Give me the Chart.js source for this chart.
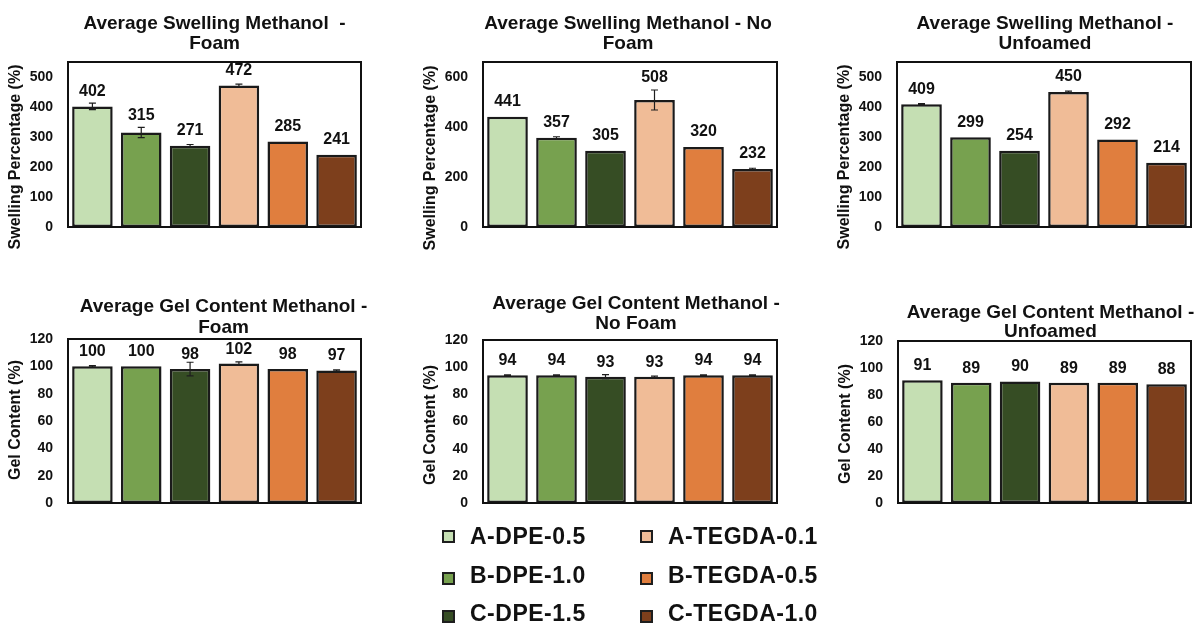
<!DOCTYPE html>
<html>
<head>
<meta charset="utf-8">
<title>Swelling and Gel Content in Methanol</title>
<script src="https://cdn.jsdelivr.net/npm/chart.js@4.4.1/dist/chart.umd.min.js"></script>
<style>
  html, body { margin: 0; padding: 0; background: #fff; }
  #page { position: relative; width: 1202px; height: 641px; overflow: hidden; background: #fff;
          font-family: "Liberation Sans", Arial, sans-serif; }
  .panel { position: absolute; }
  .panel canvas { display: block; }
  .legend-swatch { position: absolute; width: 9px; height: 9px; border: 2px solid #1e1e1e; }
  .legend-text { position: absolute; font-weight: bold; font-size: 23px; letter-spacing: 0.5px;
                 color: #111; white-space: nowrap; line-height: 30px; }
</style>
</head>
<body>
<div id="page"></div>
<script>
// Formulations (shared by every panel and the legend)
const categories = ['A-DPE-0.5', 'B-DPE-1.0', 'C-DPE-1.5', 'A-TEGDA-0.1', 'B-TEGDA-0.5', 'C-TEGDA-1.0'];
const barColors  = ['#c5dfb3', '#77a14f', '#364d24', '#f0bc97', '#e07e3e', '#7d3f1c'];

// Swelling percentage in methanol (%), mean and standard deviation
const swellFoam        = [402, 315, 271, 472, 285, 241];
const swellFoamErr     = [11, 17, 4, 4, 0, 0];
const swellNoFoam      = [441, 357, 305, 508, 320, 232];
const swellNoFoamErr   = [0, 4, 0, 40, 0, 3];
const swellUnfoamed    = [409, 299, 254, 450, 292, 214];
const swellUnfoamedErr = [2, 0, 0, 3, 0, 0];

// Gel content in methanol (%), mean and standard deviation
const gelFoam        = [100, 100, 98, 102, 98, 97];
const gelFoamErr     = [0.5, 0, 5, 1.2, 0, 0.5];
const gelNoFoam      = [94, 94, 93, 93, 94, 94];
const gelNoFoamErr   = [0.3, 0.3, 1.5, 0.5, 0.3, 0.3];
const gelUnfoamed    = [91, 89, 90, 89, 89, 88];
const gelUnfoamedErr = [0, 0, 0, 0, 0, 0];

// Axis tick labels
const swellTicks   = [0, 100, 200, 300, 400, 500];
const noFoamTicks  = [0, 200, 400, 600];
const gelTicks     = [0, 20, 40, 60, 80, 100, 120];

const FONT = '"Liberation Sans", Arial, sans-serif';

// Panel layout: origin of each canvas on the page and its plot frame (page coordinates)
const panels = [
  { values: swellFoam, errors: swellFoamErr, ticks: swellTicks, max: 550,
    title: ['Average Swelling Methanol  -', 'Foam'], yTitle: 'Swelling Percentage (%)',
    origin: [0, 0], frame: [68, 62, 361, 227], titleBase: [28.5, 48.5], titleDx: 0, yTitleY: 157, labelOnError: true },
  { values: swellNoFoam, errors: swellNoFoamErr, ticks: noFoamTicks, max: 660,
    title: ['Average Swelling Methanol - No', 'Foam'], yTitle: 'Swelling Percentage (%)',
    origin: [415, 0], frame: [483, 62, 777, 227], titleBase: [28.5, 48.5], titleDx: -2, yTitleY: 158, labelOnError: true },
  { values: swellUnfoamed, errors: swellUnfoamedErr, ticks: swellTicks, max: 550,
    title: ['Average Swelling Methanol -', 'Unfoamed'], yTitle: 'Swelling Percentage (%)',
    origin: [829, 0], frame: [897, 62, 1191, 227], titleBase: [28.5, 48.5], titleDx: 1, yTitleY: 157, labelOnError: true },
  { values: gelFoam, errors: gelFoamErr, ticks: gelTicks, max: 120,
    title: ['Average Gel Content Methanol -', 'Foam'], yTitle: 'Gel Content (%)',
    origin: [0, 270], frame: [68, 339, 361, 503], titleBase: [312, 333], titleDx: 9, yTitleY: 420, labelOnError: false },
  { values: gelNoFoam, errors: gelNoFoamErr, ticks: gelTicks, max: 120,
    title: ['Average Gel Content Methanol -', 'No Foam'], yTitle: 'Gel Content (%)',
    origin: [415, 270], frame: [483, 340, 777, 503], titleBase: [309, 329], titleDx: 6, yTitleY: 425, labelOnError: false },
  { values: gelUnfoamed, errors: gelUnfoamedErr, ticks: gelTicks, max: 120,
    title: ['Average Gel Content Methanol -', 'Unfoamed'], yTitle: 'Gel Content (%)',
    origin: [830, 270], frame: [898, 341, 1191, 503], titleBase: [318, 337], titleDx: 6, yTitleY: 424, labelOnError: false }
];

// Frame, error bars, value labels and titles for one panel
const panelDecor = {
  id: 'panelDecor',
  afterDatasetsDraw(chart, args, opts) {
    const ctx = chart.ctx;
    const a = chart.chartArea;
    const y = chart.scales.y;
    const meta = chart.getDatasetMeta(0);
    const vals = chart.data.datasets[0].data;
    const errs = opts.errors;
    ctx.save();

    // error bars
    ctx.strokeStyle = '#1e1e1e';
    ctx.lineWidth = 1.2;
    meta.data.forEach((bar, i) => {
      const e = errs[i];
      if (!e) return;
      const yHi = y.getPixelForValue(vals[i] + e);
      const yLo = y.getPixelForValue(vals[i] - e);
      ctx.beginPath();
      ctx.moveTo(bar.x, yLo); ctx.lineTo(bar.x, yHi);
      ctx.moveTo(bar.x - 3.5, yHi); ctx.lineTo(bar.x + 3.5, yHi);
      ctx.moveTo(bar.x - 3.5, yLo); ctx.lineTo(bar.x + 3.5, yLo);
      ctx.stroke();
    });

    // plot frame
    ctx.lineWidth = 2;
    ctx.strokeStyle = '#111';
    ctx.strokeRect(a.left, a.top, a.right - a.left, a.bottom - a.top);

    // value labels: above the bar, kept clear of the error bar cap
    ctx.fillStyle = '#111';
    ctx.font = 'bold 16px ' + FONT;
    ctx.textAlign = 'center';
    ctx.textBaseline = 'middle';
    meta.data.forEach((bar, i) => {
      let ly = bar.y - 14.5;
      if (opts.labelOnError) {
        const errTop = y.getPixelForValue(vals[i] + (errs[i] || 0));
        ly = Math.min(bar.y - 15, errTop - 12);
      }
      ctx.fillText(String(vals[i]), bar.x, ly);
    });

    // chart title (two lines, centred over the plot)
    ctx.font = 'bold 19px ' + FONT;
    ctx.textBaseline = 'alphabetic';
    const cx = (a.left + a.right) / 2 + opts.titleDx;
    opts.title.forEach((line, k) => ctx.fillText(line, cx, opts.titleBase[k]));

    // y-axis title
    ctx.font = 'bold 16px ' + FONT;
    ctx.textBaseline = 'middle';
    ctx.translate(a.left - 52, opts.yTitleY);
    ctx.rotate(-Math.PI / 2);
    ctx.fillText(opts.yTitle, 0, 0);
    ctx.restore();
  }
};

const page = document.getElementById('page');

panels.forEach(p => {
  const [ox, oy] = p.origin;
  const [L, T, R, B] = p.frame;
  const w = R - ox + 10;
  const h = B - oy + 40;
  const div = document.createElement('div');
  div.className = 'panel';
  div.style.left = ox + 'px';
  div.style.top = oy + 'px';
  div.style.width = w + 'px';
  div.style.height = h + 'px';
  const canvas = document.createElement('canvas');
  canvas.width = w;
  canvas.height = h;
  canvas.style.width = w + 'px';
  canvas.style.height = h + 'px';
  div.appendChild(canvas);
  page.appendChild(div);

  const want = { left: L - ox, top: T - oy, right: R - ox, bottom: B - oy };
  let yWidth = want.left;

  const chart = new Chart(canvas, {
    type: 'bar',
    data: {
      labels: categories,
      datasets: [{
        data: p.values,
        backgroundColor: barColors,
        borderColor: '#1a1a1a',
        borderWidth: 2.5,
        borderSkipped: false,
        barPercentage: 0.83,
        categoryPercentage: 1
      }]
    },
    options: {
      responsive: false,
      maintainAspectRatio: false,
      animation: false,
      devicePixelRatio: 1,
      layout: { autoPadding: false, padding: { left: 0, top: want.top, right: w - want.right, bottom: h - want.bottom } },
      plugins: {
        legend: { display: false },
        title: { display: false },
        tooltip: { enabled: false },
        panelDecor: {
          errors: p.errors,
          labelOnError: p.labelOnError,
          title: p.title,
          titleBase: p.titleBase.map(v => v - oy),
          titleDx: p.titleDx,
          yTitle: p.yTitle,
          yTitleY: p.yTitleY - oy
        }
      },
      scales: {
        x: { display: false, offset: true },
        y: {
          min: 0,
          max: p.max,
          afterBuildTicks: s => { s.ticks = p.ticks.map(v => ({ value: v })); },
          afterFit: s => { s.width = yWidth; },
          grid: { display: false, drawTicks: false },
          border: { display: false },
          ticks: { padding: 15, color: '#111', font: { family: FONT, size: 14, weight: 'bold' } }
        }
      }
    },
    plugins: [panelDecor]
  });

  // nudge the layout padding until the plot area sits on the requested frame
  for (let k = 0; k < 3; k++) {
    const a = chart.chartArea;
    const pad = chart.options.layout.padding;
    const dT = want.top - a.top, dB = a.bottom - want.bottom;
    const dL = want.left - a.left, dR = a.right - want.right;
    if (!dT && !dB && !dL && !dR) break;
    pad.top += dT;
    pad.bottom += dB;
    pad.right += dR;
    yWidth += dL;
    chart.update();
  }
});

// Legend: DPE series in the first column, TEGDA series in the second
const legendCols = [442, 640];
const legendRows = [536, 574.5, 612.5];
categories.forEach((name, i) => {
  const col = Math.floor(i / 3);
  const row = i % 3;
  const sw = document.createElement('div');
  sw.className = 'legend-swatch';
  sw.style.background = barColors[i];
  sw.style.left = legendCols[col] + 'px';
  sw.style.top = (legendRows[row] - 6.5 + (row === 0 ? 0 : 4)) + 'px';
  page.appendChild(sw);
  const tx = document.createElement('div');
  tx.className = 'legend-text';
  tx.textContent = name;
  tx.style.left = (legendCols[col] + 28) + 'px';
  tx.style.top = (legendRows[row] - 15) + 'px';
  page.appendChild(tx);
});
</script>
</body>
</html>
